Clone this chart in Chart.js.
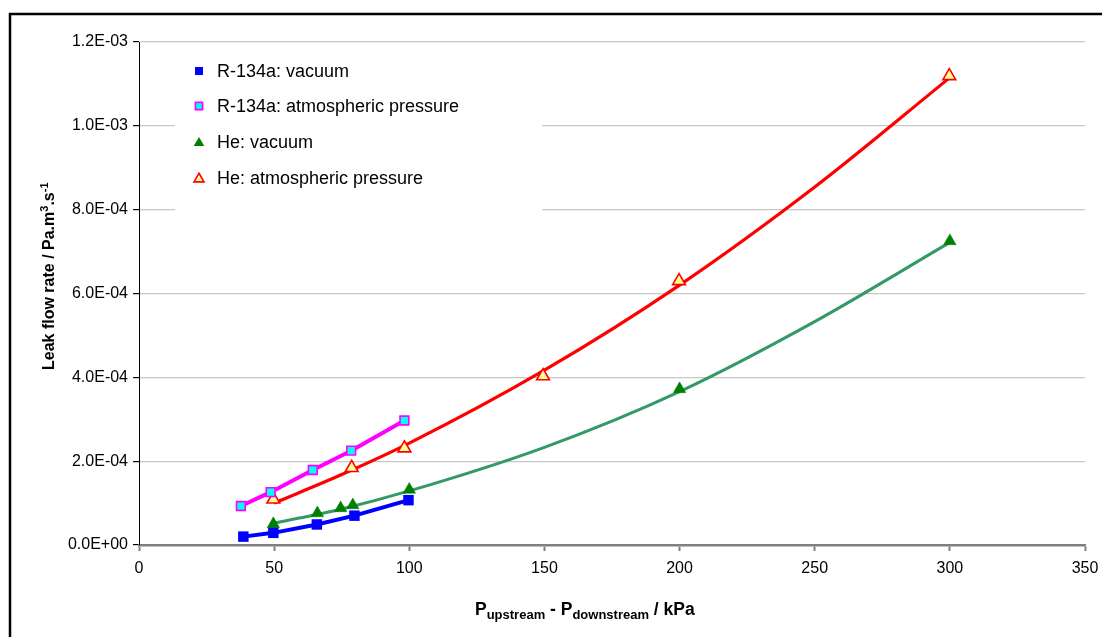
<!DOCTYPE html>
<html>
<head>
<meta charset="utf-8">
<title>Leak flow rate</title>
<script src="https://cdn.jsdelivr.net/npm/chart.js@4/dist/chart.umd.min.js"></script>
<style>
  html, body { margin: 0; padding: 0; background: #fff; }
  canvas { display: block; }
</style>
</head>
<body>
<canvas id="leakChart" width="1102" height="637"></canvas>
<script>
// values (x in kPa, y in Pa.m3/s)
const r134aVacX = [38.6, 49.7, 65.8, 79.7, 99.7];
const r134aVacY = [2.0e-5, 2.9e-5, 4.9e-5, 7.0e-5, 1.07e-4];

const r134aAtmX = [37.7, 48.7, 64.3, 78.5, 98.2];
const r134aAtmY = [9.3e-5, 1.26e-4, 1.79e-4, 2.25e-4, 2.97e-4];

const heVacX = [49.7, 66.0, 74.6, 79.1, 100.0, 200.0, 300.0];
const heVacY = [5.0e-5, 7.6e-5, 8.8e-5, 9.5e-5, 1.32e-4, 3.72e-4, 7.25e-4];

const heAtmX = [49.7, 78.7, 98.2, 149.5, 199.8, 299.8];
const heAtmY = [1.09e-4, 1.84e-4, 2.31e-4, 4.03e-4, 6.30e-4, 1.119e-3];

// trend curves
const trendX = [50, 75, 100, 150, 200, 250, 300];
const heVacTrendY = [5.2e-5, 8.6e-5, 1.29e-4, 2.33e-4, 3.66e-4, 5.33e-4, 7.22e-4];
const heAtmTrendY = [1.0e-4, 1.68e-4, 2.43e-4, 4.17e-4, 6.20e-4, 8.54e-4, 1.115e-3];

const seriesNames = ['R-134a: vacuum', 'R-134a: atmospheric pressure', 'He: vacuum', 'He: atmospheric pressure'];

const xTicks = [0, 50, 100, 150, 200, 250, 300, 350];
const yTicks = [0, 2e-4, 4e-4, 6e-4, 8e-4, 1.0e-3, 1.2e-3];

const FONT = '"Liberation Sans", Arial, sans-serif';

function pts(xs, ys) {
    return xs.map(function(x, i) { return { x: x, y: ys[i] }; });
}

function sci(v) {
    if (Math.abs(v) < 1e-12) return '0.0E+00';
    let e = Math.floor(Math.log10(Math.abs(v)) + 1e-9);
    let m = v / Math.pow(10, e);
    if (Math.round(m * 10) >= 100) { m /= 10; e += 1; }
    return m.toFixed(1) + 'E' + (e < 0 ? '-' : '+') + String(Math.abs(e)).padStart(2, '0');
}

// small marker painter used by the legend
function marker(ctx, style, x, y, r, fill, stroke, lw) {
    ctx.save();
    ctx.beginPath();
    if (style === 'rect') {
        ctx.rect(x - r, y - r, 2 * r, 2 * r);
    } else {
        const h = r * Math.sqrt(3);
        ctx.moveTo(x, y - h * 2 / 3);
        ctx.lineTo(x + r, y + h / 3);
        ctx.lineTo(x - r, y + h / 3);
        ctx.closePath();
    }
    ctx.fillStyle = fill;
    ctx.fill();
    if (stroke) {
        ctx.lineWidth = lw;
        ctx.strokeStyle = stroke;
        ctx.stroke();
    }
    ctx.restore();
}

// ===== frame, legend box and axis titles =====
const decorPlugin = {
    id: 'decor',
    beforeDraw: function(chart) {
        const ctx = chart.ctx;
        ctx.save();
        ctx.fillStyle = '#fff';
        ctx.fillRect(0, 0, chart.width, chart.height);
        ctx.restore();
    },
    afterDraw: function(chart) {
        const ctx = chart.ctx;
        ctx.save();

        // outer frame (right and bottom edges fall outside the picture)
        ctx.lineWidth = 2.5;
        ctx.strokeStyle = '#000';
        ctx.strokeRect(10, 14, 1200, 800);

        // legend box hides the grid lines behind it
        ctx.fillStyle = '#fff';
        ctx.fillRect(175, 50, 367, 165);

        const rows = [71, 106, 142, 178];
        marker(ctx, 'rect', 199, rows[0], 4, '#0000ff');
        marker(ctx, 'rect', 199, rows[1], 3.6, '#00ffff', '#ff00ff', 1.6);
        marker(ctx, 'tri', 199, rows[2] + 1, 5.3, '#008000');
        marker(ctx, 'tri', 199, rows[3] + 1, 5, '#ffff99', '#ff0000', 1.6);

        ctx.fillStyle = '#000';
        ctx.font = '18px ' + FONT;
        ctx.textBaseline = 'middle';
        ctx.textAlign = 'left';
        seriesNames.forEach(function(name, i) {
            ctx.fillText(name, 217, rows[i] + 1);
        });

        // x title with subscripts
        let x = 475;
        const base = 615;
        const parts = [
            ['P', 17.5, 0], ['upstream', 13, 4], [' - P', 17.5, 0], ['downstream', 13, 4], [' / kPa', 17.5, 0]
        ];
        ctx.textBaseline = 'alphabetic';
        parts.forEach(function(p) {
            ctx.font = 'bold ' + p[1] + 'px ' + FONT;
            ctx.fillText(p[0], x, base + p[2]);
            x += ctx.measureText(p[0]).width;
        });

        // y title with superscripts, rotated
        ctx.translate(54, 370);
        ctx.rotate(-Math.PI / 2);
        const yparts = [
            ['Leak flow rate / Pa.m', 16, 0], ['3', 11, -6], ['.s', 16, 0], ['-1', 11, -6]
        ];
        let t = 0;
        yparts.forEach(function(p) {
            ctx.font = 'bold ' + p[1] + 'px ' + FONT;
            ctx.fillText(p[0], t, p[2]);
            t += ctx.measureText(p[0]).width;
        });

        ctx.restore();
    }
};

new Chart(document.getElementById('leakChart'), {
    type: 'scatter',
    data: {
        datasets: [
            {
                label: 'He: vacuum trend',
                data: pts(trendX, heVacTrendY),
                showLine: true,
                borderColor: '#339966',
                borderWidth: 3,
                pointRadius: 0,
                cubicInterpolationMode: 'monotone',
                order: 5
            },
            {
                label: 'He: atmospheric pressure trend',
                data: pts(trendX, heAtmTrendY),
                showLine: true,
                borderColor: '#ff0000',
                borderWidth: 3.2,
                pointRadius: 0,
                cubicInterpolationMode: 'monotone',
                order: 5
            },
            {
                label: seriesNames[0],
                data: pts(r134aVacX, r134aVacY),
                showLine: true,
                borderColor: '#0000ff',
                borderWidth: 4,
                pointStyle: 'rect',
                pointRadius: 7.4,
                pointBackgroundColor: '#0000ff',
                pointBorderColor: '#0000ff',
                pointBorderWidth: 0,
                order: 1
            },
            {
                label: seriesNames[1],
                data: pts(r134aAtmX, r134aAtmY),
                showLine: true,
                borderColor: '#ff00ff',
                borderWidth: 4,
                pointStyle: 'rect',
                pointRadius: 6.2,
                pointBackgroundColor: '#00ffff',
                pointBorderColor: '#ff00ff',
                pointBorderWidth: 1.6,
                order: 1
            },
            {
                label: seriesNames[2],
                data: pts(heVacX, heVacY),
                showLine: false,
                pointStyle: 'triangle',
                pointRadius: 7.2,
                pointBackgroundColor: '#008000',
                pointBorderColor: '#008000',
                pointBorderWidth: 0.5,
                order: 1
            },
            {
                label: seriesNames[3],
                data: pts(heAtmX, heAtmY),
                showLine: false,
                pointStyle: 'triangle',
                pointRadius: 7.4,
                pointBackgroundColor: '#ffff99',
                pointBorderColor: '#ff0000',
                pointBorderWidth: 1.6,
                order: 1
            }
        ]
    },
    options: {
        responsive: false,
        animation: false,
        events: [],
        layout: { padding: { left: 0, right: 17, top: 42, bottom: 0 } },
        plugins: {
            legend: { display: false },
            tooltip: { enabled: false }
        },
        scales: {
            x: {
                type: 'linear',
                min: 0,
                max: 350,
                afterFit: function(scale) {
                    scale.height = 92;
                    scale.paddingLeft = 0;
                    scale.paddingRight = 0;
                },
                afterBuildTicks: function(scale) {
                    scale.ticks = xTicks.map(function(v) { return { value: v }; });
                },
                grid: {
                    drawOnChartArea: false,
                    tickLength: 6,
                    tickColor: '#808080',
                    tickWidth: 2
                },
                border: { color: '#808080', width: 2.5 },
                ticks: {
                    color: '#000',
                    padding: 8,
                    maxRotation: 0,
                    font: { family: FONT, size: 16 }
                }
            },
            y: {
                type: 'linear',
                min: 0,
                max: 1.2e-3,
                afterFit: function(scale) {
                    scale.width = 139;
                    scale.paddingTop = 0;
                    scale.paddingBottom = 0;
                },
                afterBuildTicks: function(scale) {
                    scale.ticks = yTicks.map(function(v) { return { value: v }; });
                },
                grid: {
                    color: '#c8c8c8',
                    lineWidth: 1.2,
                    tickLength: 6,
                    tickColor: '#000'
                },
                border: { color: '#000', width: 1 },
                ticks: {
                    color: '#000',
                    padding: 5,
                    font: { family: FONT, size: 16 },
                    callback: function(v) { return sci(v); }
                }
            }
        }
    },
    plugins: [decorPlugin]
});
</script>
</body>
</html>
